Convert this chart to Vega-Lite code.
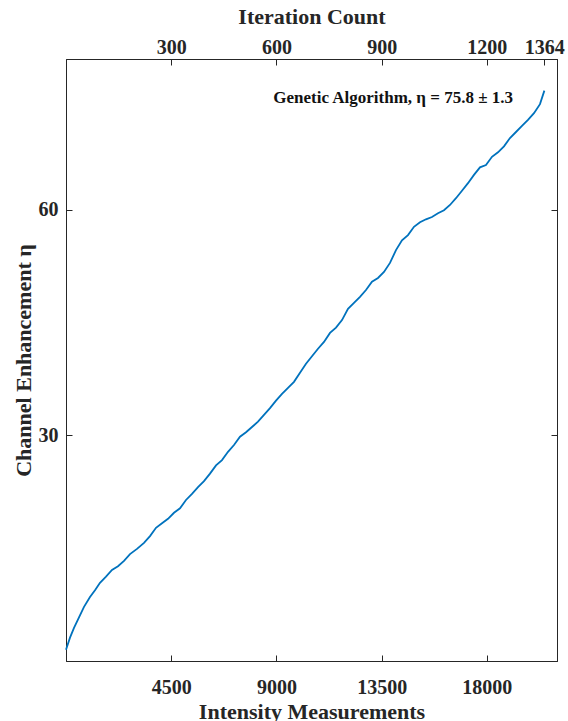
{
  "$schema": "https://vega.github.io/schema/vega-lite/v6.json",
  "width": 491,
  "height": 602,
  "autosize": "none",
  "padding": {"left": 66, "top": 59, "right": 11, "bottom": 60},
  "config": {
    "view": {"stroke": "#262626", "strokeWidth": 1},
    "font": "Liberation Serif",
    "axis": {
      "grid": false,
      "labelFont": "Liberation Serif",
      "labelFontWeight": "bold",
      "labelFontSize": 20,
      "labelColor": "#262626",
      "titleFont": "Liberation Serif",
      "titleFontWeight": "bold",
      "titleFontSize": 22,
      "titleColor": "#262626",
      "domainColor": "#262626",
      "tickColor": "#262626",
      "tickSize": -6
    }
  },
  "datasets": {
    "trace": [
      {"measurements": 0, "eta": 1.5},
      {"measurements": 171, "eta": 3.1},
      {"measurements": 342, "eta": 4.4},
      {"measurements": 556, "eta": 5.8},
      {"measurements": 770, "eta": 7.2},
      {"measurements": 1026, "eta": 8.5},
      {"measurements": 1240, "eta": 9.4},
      {"measurements": 1454, "eta": 10.4},
      {"measurements": 1711, "eta": 11.2},
      {"measurements": 1967, "eta": 12.1},
      {"measurements": 2224, "eta": 12.6},
      {"measurements": 2481, "eta": 13.3},
      {"measurements": 2737, "eta": 14.2},
      {"measurements": 3037, "eta": 14.9},
      {"measurements": 3336, "eta": 15.7},
      {"measurements": 3593, "eta": 16.6},
      {"measurements": 3849, "eta": 17.7},
      {"measurements": 4106, "eta": 18.3},
      {"measurements": 4363, "eta": 18.9},
      {"measurements": 4619, "eta": 19.7},
      {"measurements": 4876, "eta": 20.3},
      {"measurements": 5132, "eta": 21.4},
      {"measurements": 5389, "eta": 22.2},
      {"measurements": 5646, "eta": 23.1},
      {"measurements": 5902, "eta": 23.9},
      {"measurements": 6159, "eta": 24.9},
      {"measurements": 6416, "eta": 26.0},
      {"measurements": 6672, "eta": 26.7},
      {"measurements": 6929, "eta": 27.8},
      {"measurements": 7185, "eta": 28.7},
      {"measurements": 7442, "eta": 29.8},
      {"measurements": 7699, "eta": 30.4},
      {"measurements": 7955, "eta": 31.1},
      {"measurements": 8212, "eta": 31.8},
      {"measurements": 8468, "eta": 32.7},
      {"measurements": 8725, "eta": 33.6},
      {"measurements": 8982, "eta": 34.6},
      {"measurements": 9238, "eta": 35.5},
      {"measurements": 9495, "eta": 36.3},
      {"measurements": 9751, "eta": 37.1},
      {"measurements": 10008, "eta": 38.3},
      {"measurements": 10265, "eta": 39.5},
      {"measurements": 10521, "eta": 40.5},
      {"measurements": 10778, "eta": 41.5},
      {"measurements": 11034, "eta": 42.4},
      {"measurements": 11291, "eta": 43.6},
      {"measurements": 11548, "eta": 44.3},
      {"measurements": 11804, "eta": 45.3},
      {"measurements": 12061, "eta": 46.8},
      {"measurements": 12317, "eta": 47.6},
      {"measurements": 12574, "eta": 48.4},
      {"measurements": 12830, "eta": 49.3},
      {"measurements": 13087, "eta": 50.4},
      {"measurements": 13344, "eta": 50.9},
      {"measurements": 13600, "eta": 51.7},
      {"measurements": 13857, "eta": 52.9},
      {"measurements": 14113, "eta": 54.6},
      {"measurements": 14370, "eta": 55.9},
      {"measurements": 14627, "eta": 56.6},
      {"measurements": 14883, "eta": 57.7},
      {"measurements": 15140, "eta": 58.3},
      {"measurements": 15396, "eta": 58.7},
      {"measurements": 15653, "eta": 59.0},
      {"measurements": 15910, "eta": 59.5},
      {"measurements": 16166, "eta": 59.9},
      {"measurements": 16423, "eta": 60.6},
      {"measurements": 16679, "eta": 61.5},
      {"measurements": 16936, "eta": 62.5},
      {"measurements": 17193, "eta": 63.5},
      {"measurements": 17449, "eta": 64.6},
      {"measurements": 17706, "eta": 65.6},
      {"measurements": 17962, "eta": 65.9},
      {"measurements": 18219, "eta": 67.0},
      {"measurements": 18476, "eta": 67.6},
      {"measurements": 18732, "eta": 68.4},
      {"measurements": 18989, "eta": 69.5},
      {"measurements": 19245, "eta": 70.3},
      {"measurements": 19502, "eta": 71.1},
      {"measurements": 19759, "eta": 71.9},
      {"measurements": 20015, "eta": 72.8},
      {"measurements": 20272, "eta": 74.0},
      {"measurements": 20460, "eta": 75.8}
    ]
  },
  "layer": [
    {
      "data": {"name": "trace"},
      "mark": {"type": "line", "color": "#0072BD", "strokeWidth": 1.8},
      "encoding": {
        "x": {
          "field": "measurements",
          "type": "quantitative",
          "scale": {"domain": [0, 21000], "nice": false},
          "axis": {"orient": "bottom", "values": [4500, 9000, 13500, 18000], "format": "d", "labelPadding": 22, "titlePadding": 4, "title": "Intensity Measurements"}
        },
        "y": {
          "field": "eta",
          "type": "quantitative",
          "scale": {"domain": [0, 80], "nice": false},
          "axis": {"orient": "left", "values": [30, 60], "labelPadding": 14, "titlePadding": 3, "title": "Channel Enhancement η"}
        }
      }
    },
    {
      "data": {"name": "trace"},
      "mark": {"type": "line", "opacity": 0},
      "encoding": {
        "x": {
          "field": "measurements",
          "type": "quantitative",
          "axis": {"orient": "top", "values": [4500, 9000, 13500, 18000, 20460], "labelExpr": "format(datum.value / 15, 'd')", "labelPadding": 8, "titlePadding": 9, "title": "Iteration Count"}
        },
        "y": {
          "field": "eta",
          "type": "quantitative",
          "axis": {"orient": "right", "values": [30, 60], "labels": false, "title": null}
        }
      }
    },
    {
      "data": {"values": [{"measurements": 19119, "eta": 74.8, "label": "Genetic Algorithm, η = 75.8 ± 1.3"}]},
      "mark": {"type": "text", "align": "right", "baseline": "middle", "font": "Liberation Serif", "fontWeight": "bold", "fontSize": 17, "color": "#111111"},
      "encoding": {
        "x": {"field": "measurements", "type": "quantitative", "axis": null},
        "y": {"field": "eta", "type": "quantitative", "axis": null},
        "text": {"field": "label"}
      }
    }
  ],
  "resolve": {"axis": {"x": "independent", "y": "independent"}}
}
